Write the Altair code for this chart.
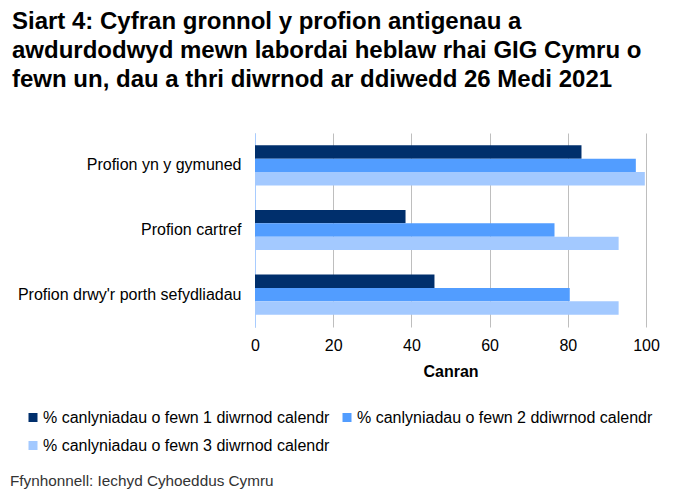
import altair as alt
import pandas as pd

categories = ["Profion yn y gymuned", "Profion cartref", "Profion drwy'r porth sefydliadau"]
series = [
    "% canlyniadau o fewn 1 diwrnod calendr",
    "% canlyniadau o fewn 2 ddiwrnod calendr",
    "% canlyniadau o fewn 3 diwrnod calendr",
]
values_1day = [83.5, 38.5, 45.9]
values_2day = [97.4, 76.6, 80.5]
values_3day = [99.7, 93.0, 93.0]
colors = ["#002F6C", "#529DFF", "#A3C9FF"]
x_ticks = [0, 20, 40, 60, 80, 100]
title_lines = [
    "Siart 4: Cyfran gronnol y profion antigenau a",
    "awdurdodwyd mewn labordai heblaw rhai GIG Cymru o",
    "fewn un, dau a thri diwrnod ar ddiwedd 26 Medi 2021",
]
source_text = "Ffynhonnell: Iechyd Cyhoeddus Cymru"

rows = []
for s, vals in zip(series, [values_1day, values_2day, values_3day]):
    for c, v in zip(categories, vals):
        rows.append({"category": c, "series": s, "value": v})
df = pd.DataFrame(rows)

FONT = "Liberation Sans"

bars = alt.Chart(df).mark_bar().encode(
    y=alt.Y(
        "category:N",
        sort=categories,
        scale=alt.Scale(paddingInner=0.38, paddingOuter=0.19),
        axis=alt.Axis(
            title=None, ticks=False, labelFontSize=16, labelColor="#000000",
            labelPadding=14, domainColor="#A8CCFF", domainWidth=1, grid=False,
            labelFont=FONT, labelLimit=400,
        ),
    ),
    yOffset=alt.YOffset("series:N", sort=series),
    x=alt.X(
        "value:Q",
        scale=alt.Scale(domain=[0, 100]),
        axis=alt.Axis(
            values=x_ticks, title="Canran", titleFontSize=16, titleFontWeight="bold",
            titleFont=FONT, titleColor="#000000", titlePadding=10,
            labelFontSize=16, labelFont=FONT, labelColor="#000000", labelPadding=10,
            labelFlush=False,
            ticks=False, domain=False, grid=True, gridColor="#BEBEBE", gridWidth=1,
        ),
    ),
    color=alt.Color(
        "series:N",
        sort=series,
        scale=alt.Scale(domain=series, range=colors),
        legend=alt.Legend(
            title=None, orient="none", legendX=-230, legendY=276.5, columns=2,
            direction="horizontal",
            symbolType="square", symbolSize=81, symbolStrokeWidth=0,
            labelFontSize=16, labelFont=FONT, labelColor="#000000", labelLimit=400,
            labelOffset=2, rowPadding=12, columnPadding=9,
        ),
    ),
)

source = alt.Chart(pd.DataFrame({"t": [source_text]})).mark_text(
    align="left", baseline="middle", fontSize=15.3, font=FONT, color="#333333"
).encode(text="t:N", x=alt.value(-245), y=alt.value(347.5))

chart = alt.layer(bars, source).properties(
    width=391,
    height=194,
    title=alt.TitleParams(
        text=title_lines, anchor="start", frame="group", dx=-243, offset=41,
        fontSize=24, fontWeight="bold", font=FONT, color="#000000", lineHeight=29,
    ),
    autosize=alt.AutoSizeParams(type="none"),
    padding={"left": 247, "top": 125, "right": 20, "bottom": 164},
).configure_view(stroke=None)

chart.save("out.html", embed_options={"renderer": "svg", "actions": False})
